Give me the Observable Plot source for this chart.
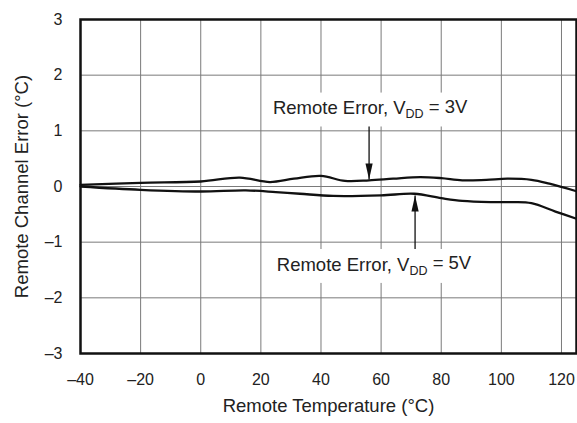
<!DOCTYPE html>
<html><head><meta charset="utf-8">
<script src="https://cdn.jsdelivr.net/npm/d3@7"></script>
<script src="https://cdn.jsdelivr.net/npm/@observablehq/plot@0.6"></script>
<style>body{margin:0;background:#fff;font-family:"Liberation Sans",Arial,sans-serif;}</style>
</head><body><div id="chart"></div>
<script>
// Data
const temp3V = [-40,-20,0,13,23,31,40,48,56,64,73,80,87,95,102,110,116,125];
const err3V  = [0.03,0.066,0.09,0.16,0.08,0.14,0.19,0.10,0.11,0.14,0.17,0.15,0.11,0.12,0.14,0.12,0.05,-0.085];
const temp5V = [-40,-20,0,15,25,33,44,60,71,80,87,97,104,110,118,125];
const err5V  = [0.0,-0.06,-0.09,-0.07,-0.10,-0.13,-0.17,-0.16,-0.13,-0.21,-0.26,-0.28,-0.28,-0.30,-0.45,-0.58];
const xTicks = [-40,-20,0,20,40,60,80,100,120];
const yTicks = [-3,-2,-1,0,1,2,3];
const xLabel = "Remote Temperature (°C)";
const yLabel = "Remote Channel Error (°C)";
// annotations (data units)
const notes = [
  {label: "Remote Error, V_DD = 3V", x: 24, y: 1.40, ax: 56, ay1: 1.10, ay2: 0.126, dir: "down"},
  {label: "Remote Error, V_DD = 5V", x: 25.3, y: -1.41, ax: 71.3, ay1: -1.15, ay2: -0.162, dir: "up"}
];

const s3 = temp3V.map((t,i)=>({t, e: err3V[i]}));
const s5 = temp5V.map((t,i)=>({t, e: err5V[i]}));
const fmt = d => d < 0 ? "\u2013" + (-d) : String(d);

const headSymbol = {draw(ctx){ ctx.moveTo(0,0); ctx.lineTo(-3.6,16); ctx.lineTo(3.6,16); ctx.closePath(); }};

const plot = Plot.plot({
  width: 577, height: 423,
  marginLeft: 80, marginRight: 1, marginTop: 19, marginBottom: 70,
  style: {fontFamily: '"Liberation Sans", Arial, sans-serif', color: "#222", background: "#fff"},
  x: {domain: [-40, 125]},
  y: {domain: [-3, 3]},
  marks: [
    Plot.gridX(xTicks, {stroke: "#7a7a7a", strokeOpacity: 1, strokeWidth: 1}),
    Plot.gridY(yTicks, {stroke: "#7a7a7a", strokeOpacity: 1, strokeWidth: 1}),
    Plot.axisX(xTicks, {tickSize: 0, tickPadding: 20, fontSize: 16, tickFormat: fmt, label: null}),
    Plot.axisY(yTicks, {tickSize: 0, tickPadding: 18, fontSize: 16, tickFormat: fmt, label: null}),
    Plot.text([xLabel], {frameAnchor: "bottom", textAnchor: "middle", dy: 58, fontSize: 18.5, fill: "#222"}),
    Plot.text([yLabel], {frameAnchor: "left", textAnchor: "middle", dx: -58, rotate: -90, fontSize: 18.5, fill: "#222"}),
    Plot.line(s3, {x: "t", y: "e", curve: "catmull-rom", stroke: "#111", strokeWidth: 2.3}),
    Plot.line(s5, {x: "t", y: "e", curve: "catmull-rom", stroke: "#111", strokeWidth: 2.3}),
    Plot.link(notes, {x1: "ax", x2: "ax", y1: "ay1", y2: "ay2", stroke: "#111", strokeWidth: 1.3}),
    Plot.dot(notes, {x: "ax", y: "ay2", symbol: headSymbol, fill: "#111", stroke: "none", r: 4, rotate: d => d.dir === "down" ? 180 : 0}),
    Plot.text(notes, {x: "x", y: "y", text: "label", textAnchor: "start", fontSize: 18.5, fill: "#222"}),
    Plot.frame({stroke: "#111", strokeWidth: 2.5})
  ]
});
document.getElementById("chart").appendChild(plot);

// subscripts + white boxes behind annotation texts
const svg = d3.select(plot);
const targets = [];
svg.selectAll("text").each(function(){ if (this.textContent.includes("_DD")) targets.push(this); });
targets.forEach(node => {
  const [pre, post] = node.textContent.split("_DD");
  const el = d3.select(node);
  el.text(null);
  el.append("tspan").text(pre);
  el.append("tspan").attr("font-size", "12.5px").attr("dy", "0.32em").text("DD");
  el.append("tspan").attr("dy", "-0.32em").text(post);
  const bb = node.getBBox();
  const rect = document.createElementNS("http://www.w3.org/2000/svg", "rect");
  rect.setAttribute("x", bb.x - 9);
  rect.setAttribute("y", bb.y - 3);
  rect.setAttribute("width", bb.width + 16);
  rect.setAttribute("height", bb.height + 8);
  rect.setAttribute("fill", "#fff");
  rect.setAttribute("stroke", "none");
  if (node.getAttribute("transform")) rect.setAttribute("transform", node.getAttribute("transform"));
  node.parentNode.insertBefore(rect, node);
});
</script></body></html>
